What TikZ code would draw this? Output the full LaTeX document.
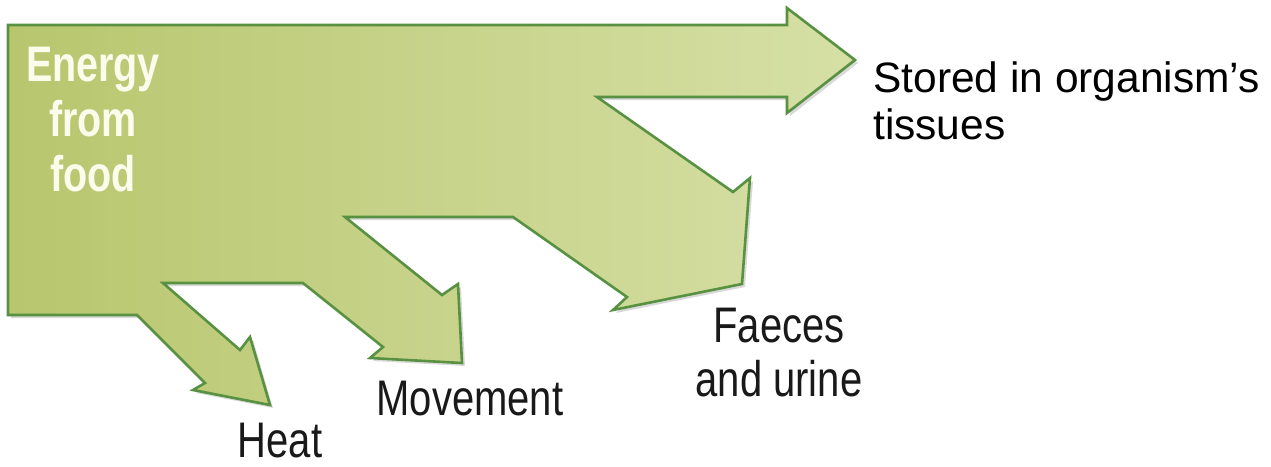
\documentclass[tikz,border=0pt]{standalone}
\usepackage{fontspec}
\setmainfont{Liberation Sans}
\newfontfamily\condfont{Liberation Sans}[FakeStretch=0.8]
\newfontfamily\energyfont{Liberation Sans}[FakeStretch=0.79]
\definecolor{flowedge}{RGB}{88,145,66}
\definecolor{flowleft}{RGB}{184,198,110}
\definecolor{flowright}{RGB}{214,224,166}
\definecolor{energytext}{RGB}{252,252,236}
\newcommand\flowoutline{(8,25) -- (787,25) -- (787,8) -- (855,60) -- (787,113) -- (787,97)
  -- (597,97) -- (733,192) -- (750,178) -- (742,284) -- (613,310) -- (627,297)
  -- (513,217) -- (345,217) -- (442,295) -- (458,284) -- (462,363) -- (370,358)
  -- (383,347) -- (303,283) -- (163,283) -- (240,350) -- (250,337) -- (270,405)
  -- (193,390) -- (205,383) -- (137,315) -- (8,315) -- cycle}
\tikzset{
  flowshadow/.style={fill=black, opacity=0.15},
  flowbody/.style={draw=flowedge, line width=2.6pt, line join=miter,
    left color=flowleft, right color=flowright},
  energylabel/.style={inner sep=0pt, align=center, text=energytext,
    font=\energyfont\bfseries\fontsize{50}{55}\selectfont},
  sinklabel/.style={inner sep=0pt, align=center, text=black!90,
    font=\condfont\fontsize{50}{54}\selectfont},
  storedlabel/.style={inner sep=0pt, align=left, text=black,
    font=\fontsize{42.5}{47}\selectfont}
}
\begin{document}
\begin{tikzpicture}[x=1pt, y=-1pt]
\useasboundingbox (0,0) rectangle (1271,466);
\fill[flowshadow, shift={(3,3)}] \flowoutline;
\path[flowbody] \flowoutline;
\node[energylabel, anchor=north] (energy) at (93,47) {Energy\\from\\food};
\node[storedlabel, anchor=north west] (stored) at (873,62) {Stored in organism’s\\tissues};
\node[sinklabel, anchor=north] (faeces) at (779,308) {Faeces\\and urine};
\node[sinklabel, anchor=base] (movement) at (470,415) {Movement};
\node[sinklabel, anchor=base] (heat) at (280,457) {Heat};
\end{tikzpicture}
\end{document}
